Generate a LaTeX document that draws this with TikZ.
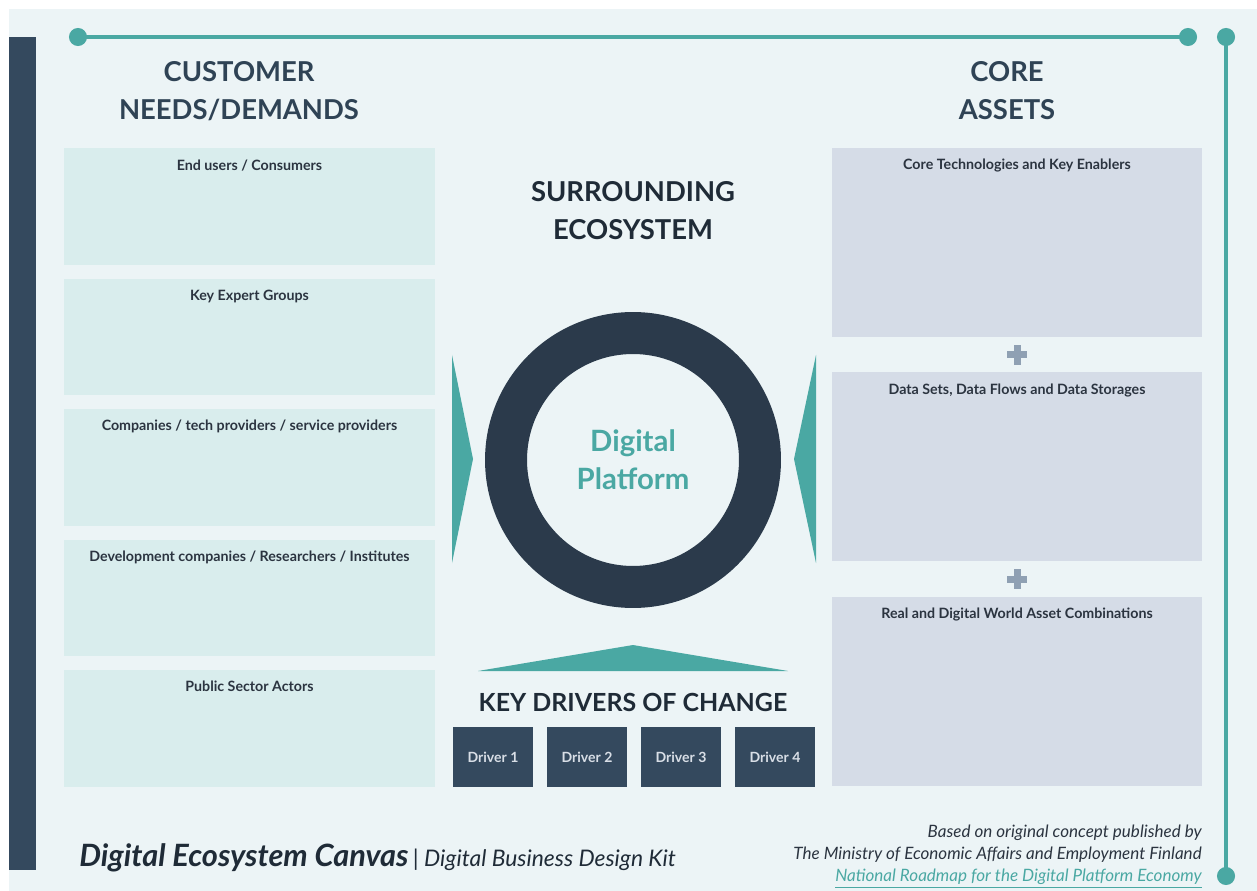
\documentclass[tikz,border=0pt]{standalone}
\usepackage{fontspec}
\setmainfont{Lato}
\usetikzlibrary{arrows.meta,positioning,calc}
\definecolor{CanvasBg}{HTML}{ECF4F6}
\definecolor{SlateBar}{HTML}{34495E}
\definecolor{Teal}{HTML}{4AA8A3}
\definecolor{MintFill}{HTML}{D9EDED}
\definecolor{AssetFill}{HTML}{D5DCE7}
\definecolor{RingNavy}{HTML}{2B3A4B}
\definecolor{HeadInk}{HTML}{2F4355}
\definecolor{DarkInk}{HTML}{1F2B37}
\definecolor{LabelInk}{HTML}{2B3440}
\definecolor{PlusGray}{HTML}{8FA0B3}
\definecolor{DriverInk}{HTML}{D8DEE6}
\tikzset{
  heading/.style={align=center,text=HeadInk,
    font=\fontsize{15.6}{21.6}\selectfont\bfseries},
  custbox/.style={fill=MintFill,inner sep=0pt,outer sep=0pt,
    minimum width=7.42cm,minimum height=2.33cm},
  assetbox/.style={fill=AssetFill,inner sep=0pt,outer sep=0pt,
    minimum width=7.4cm,minimum height=3.78cm},
  boxtext/.style={anchor=north,yshift=-0.1cm,text=LabelInk,
    font=\fontsize{8.1}{10}\selectfont\bfseries},
  driverbox/.style={fill=SlateBar,outer sep=0pt,minimum width=1.6cm,
    minimum height=1.2cm,text=DriverInk,
    font=\fontsize{8}{9}\selectfont\bfseries},
  rail/.style={draw=Teal,line width=0.08cm,
    {Circle[length=0.36cm]}-{Circle[length=0.36cm]}},
  pointer/.style={fill=Teal},
}

\begin{document}
\begin{tikzpicture}[x=0.02cm,y=-0.02cm,node distance=0.28cm]
  % page, canvas and side bar
  \fill[white] (0,0) rectangle (1257,891);
  \fill[CanvasBg] (9,9) rectangle (1257,891);
  \fill[SlateBar] (9,37) rectangle (36,870);

  % frame rails
  \coordinate (railNW) at (69,37);
  \coordinate (railNE) at (1197,37);
  \coordinate (railTop) at (1226,28);
  \coordinate (railBot) at (1226,885);
  \draw[rail] (railNW) -- (railNE);
  \draw[rail] (railTop) -- (railBot);

  % column headings
  \node[heading] (needs) at (239,91) {CUSTOMER\\NEEDS/DEMANDS};
  \node[heading] (assets) at (1007,91) {CORE\\ASSETS};
  \node[heading,text=DarkInk] (eco) at (633,211) {SURROUNDING\\ECOSYSTEM};

  % customer side
  \node[custbox,label={[boxtext]north:{End users / Consumers}}]
    (users) at (249.5,206.5) {};
  \node[custbox,below=of users,label={[boxtext]north:{Key Expert Groups}}]
    (experts) {};
  \node[custbox,below=of experts,
    label={[boxtext]north:{Companies / tech providers / service providers}}]
    (companies) {};
  \node[custbox,below=of companies,
    label={[boxtext]north:{Development companies / Researchers / Institutes}}]
    (research) {};
  \node[custbox,below=of research,label={[boxtext]north:{Public Sector Actors}}]
    (public) {};

  % asset side
  \node[assetbox,label={[boxtext]north:{Core Technologies and Key Enablers}}]
    (tech) at (1017,242.5) {};
  \node[assetbox,below=0.71cm of tech,
    label={[boxtext]north:{Data Sets, Data Flows and Data Storages}}]
    (data) {};
  \node[assetbox,below=0.71cm of data,
    label={[boxtext]north:{Real and Digital World Asset Combinations}}]
    (combo) {};
  \foreach \a/\b in {tech/data,data/combo}{
    \coordinate (plus) at ($(\a.south)!0.5!(\b.north)$);
    \fill[PlusGray] ([shift={(-10,-3.5)}]plus) rectangle ([shift={(10,3.5)}]plus);
    \fill[PlusGray] ([shift={(-3.5,-10)}]plus) rectangle ([shift={(3.5,10)}]plus);
  }

  % platform ring and pointers
  \node[circle,draw=RingNavy,line width=0.84cm,minimum size=5.08cm,
    align=center,text=Teal,font=\fontsize{16.7}{21.6}\selectfont\bfseries]
    (platform) at (633,460) {Digital\\Platform};
  \fill[pointer] (452,355) -- (473,459) -- (452,563) -- cycle;
  \fill[pointer] (816,355) -- (794,459) -- (816,563) -- cycle;
  \fill[pointer] (478,671) -- (633,645) -- (788,671) -- cycle;

  % drivers of change
  \node[heading,text=DarkInk,font=\fontsize{14.2}{18}\selectfont\bfseries]
    (drivers) at (633,702) {KEY DRIVERS OF CHANGE};
  \node[driverbox] (drv1) at (493,757) {Driver 1};
  \node[driverbox,right=of drv1] (drv2) {Driver 2};
  \node[driverbox,right=of drv2] (drv3) {Driver 3};
  \node[driverbox,right=of drv3] (drv4) {Driver 4};

  % footer
  \node[anchor=base west,inner sep=0pt,text=DarkInk] (kit) at (79,866)
    {{\fontsize{17.5}{19}\selectfont\bfseries\itshape Digital Ecosystem Canvas}
     {\fontsize{13}{15}\selectfont\itshape | Digital Business Design Kit}};
  \node[anchor=north east,align=right,inner sep=0pt,text=LabelInk,
    font=\fontsize{9.7}{12.5}\selectfont\itshape] (credit) at (1202,825)
    {Based on original concept published by\\
     The Ministry of Economic Affairs and Employment Finland\\
     \textcolor{Teal}{\underline{National Roadmap for the Digital Platform Economy}}};
\end{tikzpicture}
\end{document}
